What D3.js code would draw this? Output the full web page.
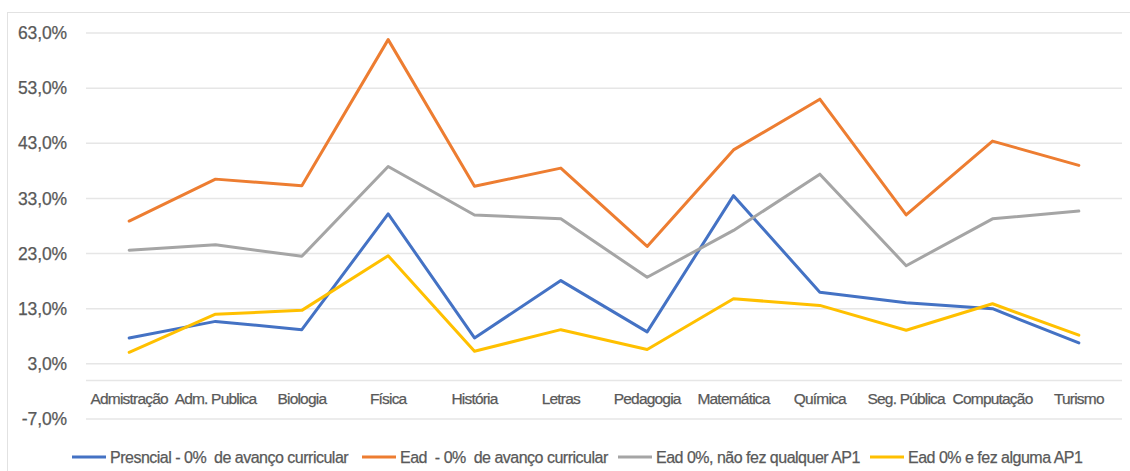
<!DOCTYPE html>
<html><head><meta charset="utf-8">
<script src="https://cdn.jsdelivr.net/npm/d3@7"></script>
<style>body{margin:0;background:#fff;}svg{display:block;font-family:"Liberation Sans",Arial,sans-serif;}</style>
</head><body>
<svg id="c" width="1130" height="471"></svg>
<script>
const categories = ["Admistração","Adm. Publica","Biologia","Física","História","Letras","Pedagogia","Matemática","Química","Seg. Pública","Computação","Turismo"];
const seriesNames = ["Presncial - 0%  de avanço curricular","Ead  - 0%  de avanço curricular","Ead 0%, não fez qualquer AP1","Ead 0% e fez alguma AP1"];
const presencial = [7.7,10.7,9.2,30.2,7.7,18.1,8.8,33.5,16.0,14.1,13.0,6.8];
const ead = [28.9,36.5,35.3,61.8,35.2,38.5,24.3,41.8,51.0,30.0,43.4,39.0];
const eadNaoFez = [23.6,24.6,22.5,38.8,30.0,29.3,18.7,27.2,37.4,20.8,29.3,30.7];
const eadFez = [5.1,12.0,12.7,22.6,5.3,9.2,5.6,14.8,13.6,9.1,13.9,8.2];
const yTicks = [-7,3,13,23,33,43,53,63];
const colors = ["#4472C4","#ED7D31","#A5A5A5","#FFC000"];

const svg = d3.select("#c");
const x = d3.scaleBand().domain(categories).range([86,1122]);
const y = d3.scaleLinear().domain([-7,63]).range([419,33]);
const textCol = "#595959";

// frame
svg.append("rect").attr("x",7.5).attr("y",12.5).attr("width",1140).attr("height",500)
  .attr("fill","none").attr("stroke","#e2e2e2").attr("stroke-width",1);

// grid
svg.append("g").selectAll("line").data(yTicks).join("line")
  .attr("x1",86).attr("x2",1122).attr("y1",d=>y(d)).attr("y2",d=>y(d))
  .attr("stroke","#e6e6e6").attr("stroke-width",1.5);
// zero axis
svg.append("line").attr("x1",86).attr("x2",1122).attr("y1",y(0)).attr("y2",y(0))
  .attr("stroke","#e6e6e6").attr("stroke-width",1.5);

function styleText(sel, size, ls){
  sel.attr("fill",textCol).attr("stroke",textCol).attr("stroke-width",0.25)
    .style("font-size",size+"px").style("letter-spacing",ls+"px")
    .style("font-family","'Liberation Sans',Arial,sans-serif");
}

// y labels
const yAxis = d3.axisLeft(y).tickValues(yTicks).tickSize(0).tickPadding(0)
  .tickFormat(d=>d.toFixed(1).replace(".",",")+"%");
const gy = svg.append("g").attr("transform","translate(67,0)").call(yAxis);
gy.select(".domain").remove();
styleText(gy.selectAll("text"), 17.5, -0.1);

// x labels
const xAxis = d3.axisBottom(x).tickSize(0).tickPadding(0);
const gx = svg.append("g").attr("transform","translate(0,393)").call(xAxis);
gx.select(".domain").remove();
styleText(gx.selectAll("text"), 15.5, -0.8);

// lines
const allSeries = [presencial, ead, eadNaoFez, eadFez];
const line = d3.line().x((d,i)=>x(categories[i])+x.bandwidth()/2).y(d=>y(d));
svg.append("g").selectAll("path").data(allSeries).join("path")
  .attr("d",line).attr("fill","none").attr("stroke",(d,i)=>colors[i])
  .attr("stroke-width",3).attr("stroke-linejoin","round").attr("stroke-linecap","round");

// legend
const legX = [72,362,618,870];
const lg = svg.append("g");
seriesNames.forEach((n,i)=>{
  lg.append("line").attr("x1",legX[i]).attr("x2",legX[i]+34).attr("y1",457).attr("y2",457)
    .attr("stroke",colors[i]).attr("stroke-width",3);
  const t = lg.append("text").attr("x",legX[i]+38).attr("y",457).attr("dy","0.36em").text(n)
    .style("white-space","pre");
  styleText(t, 16, -0.5);
});
</script>
</body></html>
